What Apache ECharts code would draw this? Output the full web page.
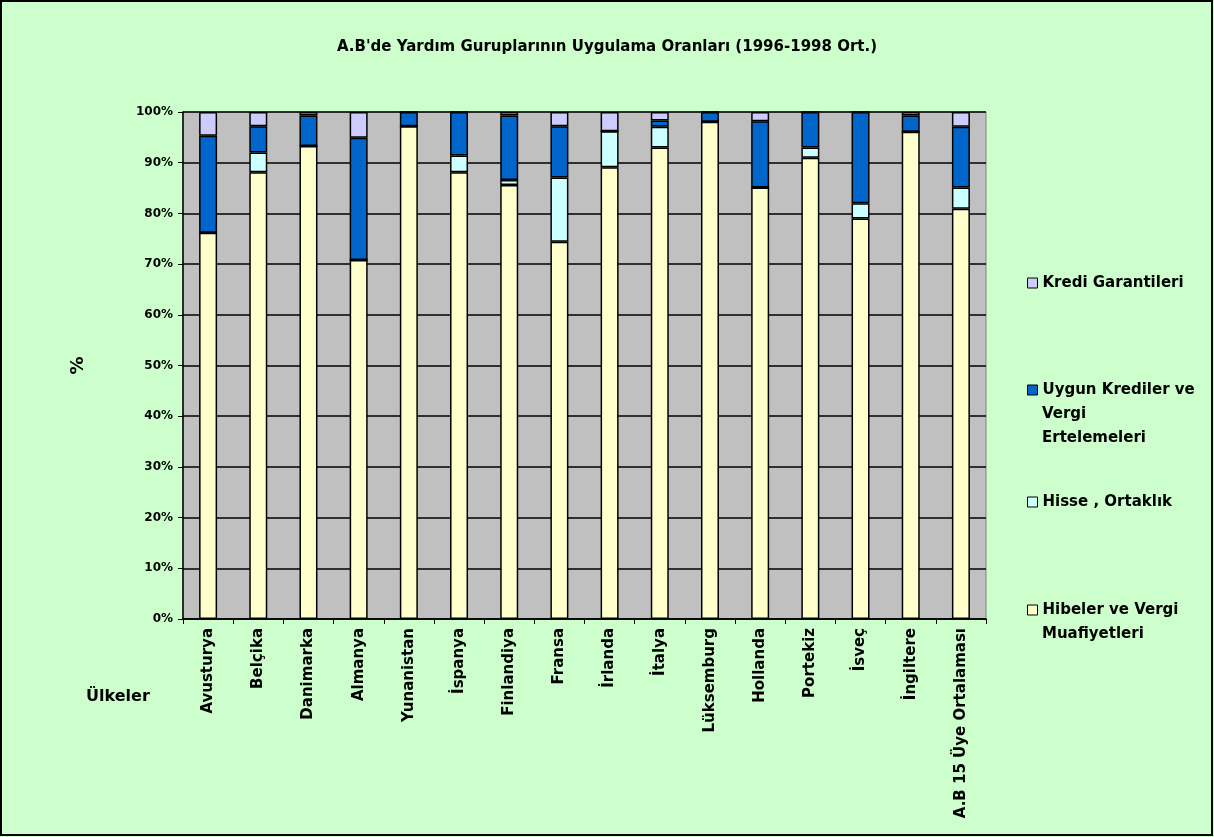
<!DOCTYPE html>
<html>
<head>
<meta charset="utf-8">
<script src="https://cdn.jsdelivr.net/npm/echarts@6/dist/echarts.min.js"></script>
<style>
  html, body { margin: 0; padding: 0; background: #CCFFCC; }
  #chart { width: 1214px; height: 837px; }
</style>
</head>
<body>
<div id="chart"></div>
<script>
const countries = ['Avusturya', 'Belçika', 'Danimarka', 'Almanya', 'Yunanistan', 'İspanya', 'Finlandiya', 'Fransa',
  'İrlanda', 'İtalya', 'Lüksemburg', 'Hollanda', 'Portekiz', 'İsveç', 'İngiltere', 'A.B 15 Üye Ortalaması'];
const hibeler = [76.2, 88.1, 93.3, 70.8, 97.2, 88.1, 85.6, 74.4, 89.1, 93.0, 98.1, 85.1, 91.0, 79.0, 96.1, 80.9];
const hisse   = [0, 3.9, 0, 0, 0, 3.3, 1.0, 12.7, 7.1, 4.1, 0, 0, 2.0, 3.0, 0, 4.2];
const uygun   = [19.1, 5.2, 6.0, 24.1, 2.8, 8.6, 12.7, 10.1, 0, 1.2, 1.9, 13.1, 7.0, 18.0, 3.2, 12.0];
const kredi   = [4.7, 2.8, 0.7, 5.1, 0, 0, 0.7, 2.8, 3.8, 1.7, 0, 1.8, 0, 0, 0.7, 2.9];
const yTicks = { min: 0, max: 100, interval: 10 };

const font = 'DejaVu Sans, Verdana, sans-serif';
const chart = echarts.init(document.getElementById('chart'));

function bar(name, data, color) {
  return {
    name: name,
    type: 'bar',
    stack: 'total',
    barWidth: 18,
    data: data,
    itemStyle: { color: color, borderColor: '#000', borderWidth: 1.5 }
  };
}

// first line goes in the legend (next to the icon), the rest as plain text below
function legendAt(name, firstLine, centerY) {
  return {
    data: [name],
    orient: 'vertical',
    left: 1027,
    top: centerY - 9,
    padding: 0,
    itemWidth: 10,
    itemHeight: 10,
    icon: 'rect',
    itemStyle: { borderColor: '#000', borderWidth: 1 },
    textStyle: { fontFamily: font, fontWeight: 'bold', fontSize: 15, color: '#000', lineHeight: 18 },
    formatter: function () { return firstLine; }
  };
}

function extraLine(text, centerY) {
  return {
    type: 'text', x: 1042, y: centerY,
    style: { text: text, fontFamily: font, fontWeight: 'bold', fontSize: 15, fill: '#000', verticalAlign: 'middle' }
  };
}

chart.setOption({
  backgroundColor: '#CCFFCC',
  animation: false,
  title: {
    text: "A.B'de Yardım Guruplarının Uygulama Oranları (1996-1998 Ort.)",
    left: 'center',
    top: 35,
    textStyle: { fontFamily: font, fontWeight: 'bold', fontSize: 15, color: '#000' }
  },
  legend: [
    legendAt('Kredi Garantileri', 'Kredi Garantileri', 283),
    legendAt('Uygun Krediler ve Vergi Ertelemeleri', 'Uygun Krediler ve', 390),
    legendAt('Hisse , Ortaklık', 'Hisse , Ortaklık', 502),
    legendAt('Hibeler ve Vergi Muafiyetleri', 'Hibeler ve Vergi', 610)
  ],
  grid: { left: 183, right: 228, top: 112, bottom: 218, show: true, backgroundColor: '#C0C0C0', borderColor: '#808080', borderWidth: 1 },
  xAxis: {
    type: 'category',
    data: countries,
    axisLine: { lineStyle: { color: '#000', width: 1.5 } },
    axisTick: { show: true, lineStyle: { color: '#000' }, length: 5 },
    axisLabel: { rotate: 90, interval: 0, margin: 9, fontFamily: font, fontWeight: 'bold', fontSize: 15, color: '#000' }
  },
  yAxis: {
    type: 'value',
    min: yTicks.min,
    max: yTicks.max,
    interval: yTicks.interval,
    name: '%',
    nameLocation: 'middle',
    nameGap: 96,
    nameRotate: 90,
    nameTextStyle: { fontFamily: font, fontWeight: 'bold', fontSize: 18, color: '#000' },
    axisLine: { show: true, lineStyle: { color: '#000', width: 1.5 } },
    axisTick: { show: true, lineStyle: { color: '#000' }, length: 5 },
    splitLine: { lineStyle: { color: '#000', width: 1.5 } },
    axisLabel: { formatter: '{value}%', margin: 10, fontFamily: font, fontWeight: 'bold', fontSize: 12, color: '#000' }
  },
  graphic: [
    { type: 'rect', shape: { x: 1, y: 1, width: 1211, height: 834 }, style: { fill: 'none', stroke: '#000', lineWidth: 2 } },
    { type: 'text', x: 86, y: 697, style: { text: 'Ülkeler', fontFamily: font, fontWeight: 'bold', fontSize: 16, fill: '#000', verticalAlign: 'middle' } },
    extraLine('Vergi', 414),
    extraLine('Ertelemeleri', 438),
    extraLine('Muafiyetleri', 634)
  ],
  series: [
    bar('Hibeler ve Vergi Muafiyetleri', hibeler, '#FFFFCC'),
    bar('Hisse , Ortaklık', hisse, '#CCFFFF'),
    bar('Uygun Krediler ve Vergi Ertelemeleri', uygun, '#0066CC'),
    bar('Kredi Garantileri', kredi, '#CCCCFF')
  ]
});
</script>
</body>
</html>
